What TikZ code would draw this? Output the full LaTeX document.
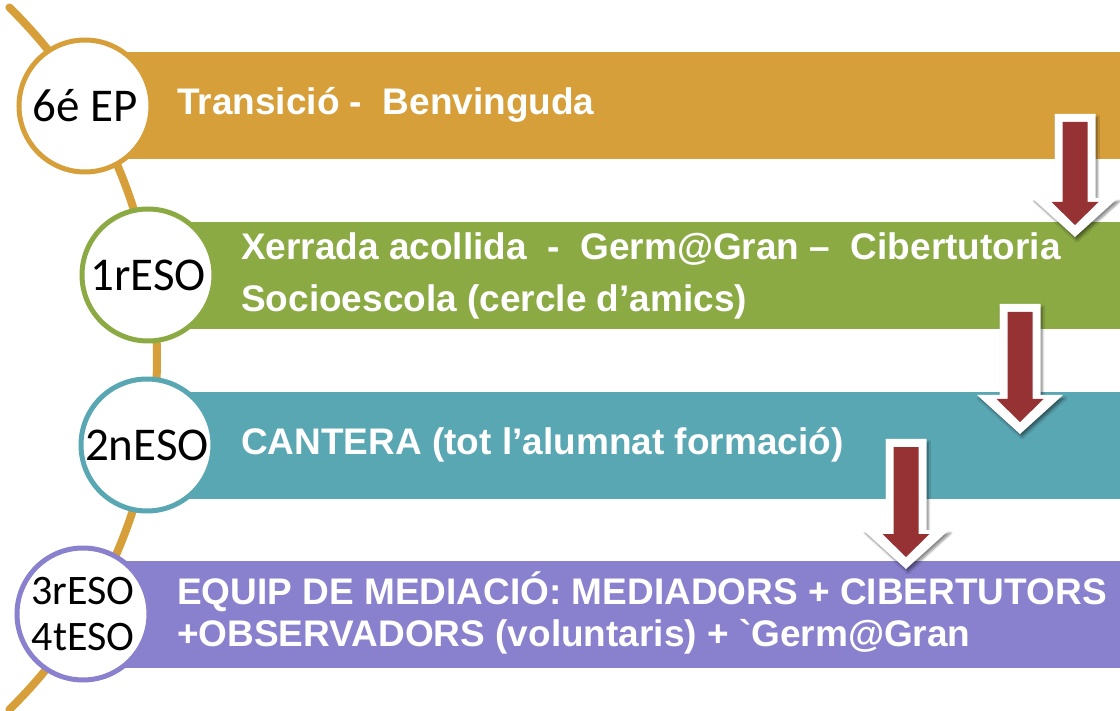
\documentclass[tikz,border=0pt]{standalone}
\usepackage{fontspec}
\setmainfont{Liberation Sans}
\newfontfamily\circfont{Carlito}
\usetikzlibrary{shadows.blur}
\definecolor{corange}{RGB}{215,159,58}
\definecolor{cgreen}{RGB}{139,170,68}
\definecolor{cteal}{RGB}{90,167,180}
\definecolor{cpurple}{RGB}{137,128,206}
\definecolor{cred}{RGB}{150,50,52}
\newcommand\gravechar{\XeTeXglyph\the\XeTeXcharglyph"60\relax}
\tikzset{
  bar/.style={anchor=west, minimum width=1060pt, minimum height=107pt, inner sep=0pt, draw=none},
  stage/.style={circle, fill=white, line width=5pt, minimum size=132pt, inner sep=0pt, align=center, font=\circfont\fontsize{47}{44}\selectfont},
  bartext/.style={anchor=west, text=white, align=left, inner sep=0pt, font=\bfseries\fontsize{37}{52}\selectfont},
  timeline/.style={draw=corange, line width=8pt, line cap=round},
}
\newcommand\myarrow[4]{% name, cx, top, tip
  \path[fill=white, blur shadow={shadow xshift=2pt, shadow yshift=-3pt, shadow blur steps=6, shadow opacity=45}]
    (#2-20.5,-#3+8) -- (#2+20.5,-#3+8) -- (#2+20.5,-#4+27) -- (#2+43,-#4+27) -- (#2,-#4-12) -- (#2-43,-#4+27) -- (#2-20.5,-#4+27) -- cycle;
  \path[fill=cred] (#2-12.5,-#3) -- (#2+12.5,-#3) -- (#2+12.5,-#4+23) -- (#2+23.5,-#4+23) -- (#2,-#4) -- (#2-23.5,-#4+23) -- (#2-12.5,-#4+23) -- cycle;
  \coordinate (#1) at (#2,-#4);
}
\begin{document}
\begin{tikzpicture}[x=1pt,y=1pt]
\useasboundingbox (0,0) rectangle (1120,-711);
\clip (0,0) rectangle (1120,-711);
% timeline curve
\coordinate (arcc) at (-334.3,-358.5);
\draw[timeline] (arcc) ++(45.6:491.3) arc[start angle=45.6, end angle=-45.6, radius=491.3];
% bars
\node[bar, fill=corange] (b1) at (85,-105.5) {};
\node[bar, fill=cgreen] (b2) at (148,-275.5) {};
\node[bar, fill=cteal] (b3) at (147,-445.5) {};
\node[bar, fill=cpurple] (b4) at (83,-614.5) {};
% circles
\node[stage, draw=corange] (c1) at (85,-106) {6é EP};
\node[stage, draw=cgreen] (c2) at (148,-275) {1rESO};
\node[stage, draw=cteal] (c3) at (147,-445) {2nESO};
\node[stage, draw=cpurple, font=\circfont\fontsize{42}{46}\selectfont] (c4) at (83,-614) {3rESO\\4tESO};
% texts
\node[bartext] (t1) at (177,-105) {Transició -\ \ Benvinguda};
\node[bartext] (t2) at (241,-276) {Xerrada acollida\ \ -\ \ Germ@Gran –\ \ Cibertutoria\\Socioescola (cercle d’amics)};
\node[bartext] (t3) at (241,-445) {CANTERA (tot l’alumnat formació)};
\node[bartext, font=\bfseries\fontsize{37}{42}\selectfont] (t4) at (177,-613) {EQUIP DE MEDIACIÓ: MEDIADORS + CIBERTUTORS\\+OBSERVADORS (voluntaris) + \gravechar Germ@Gran};
% arrows
\myarrow{a1}{1075}{122}{225}
\myarrow{a2}{1020}{312}{422}
\myarrow{a3}{906}{447}{557}
\end{tikzpicture}
\end{document}
